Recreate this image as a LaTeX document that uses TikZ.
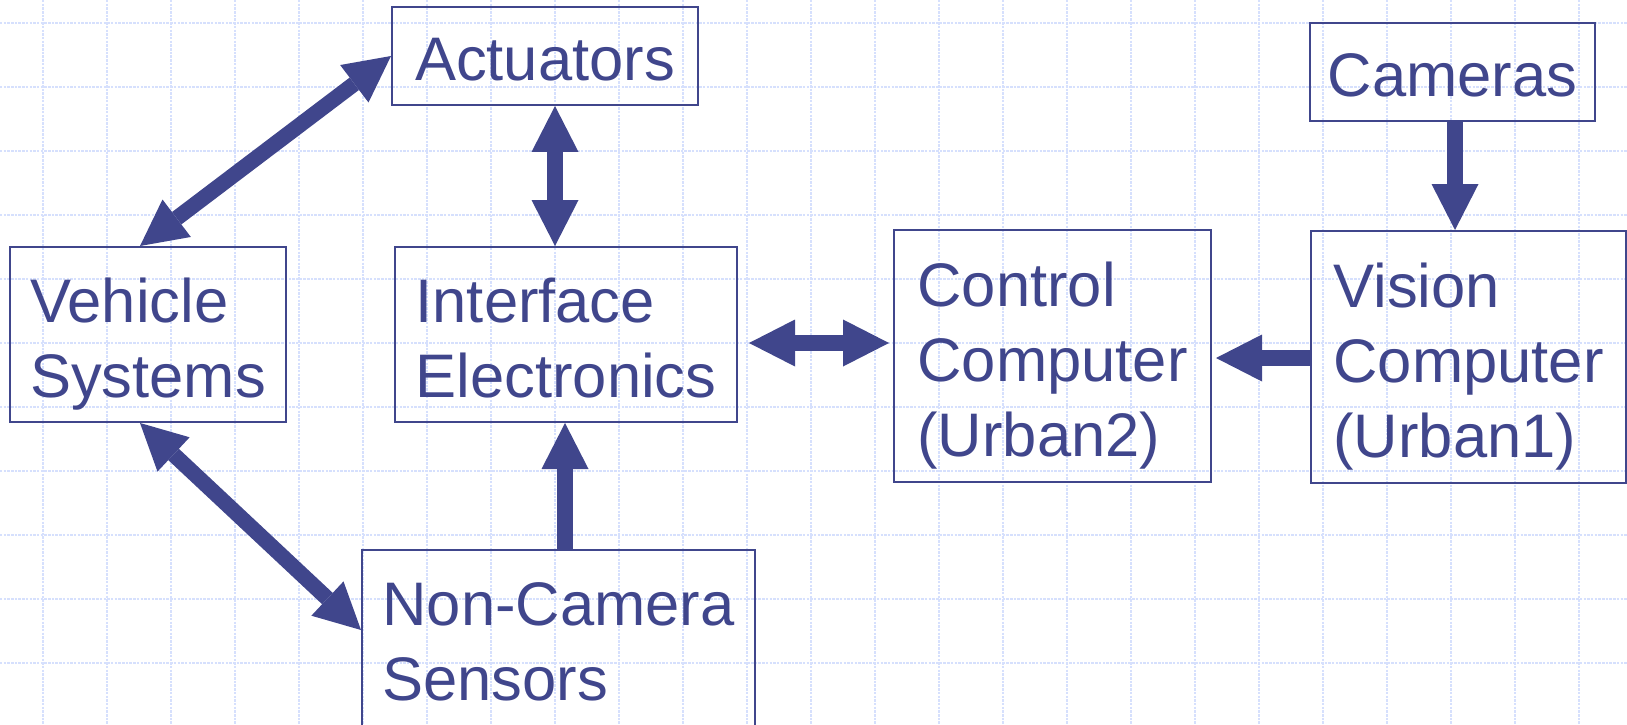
\documentclass[tikz,border=0pt]{standalone}
\usepackage{fontspec}
\setmainfont{Liberation Sans}
\usepackage{tikz}
\usetikzlibrary{arrows.meta}
\definecolor{boxblue}{RGB}{64,70,140}
\definecolor{gridblue}{RGB}{214,224,253}

\begin{document}
\begin{tikzpicture}[x=0.1mm,y=-0.1mm,
    box/.style={draw=boxblue, line width=0.2mm, text=boxblue, align=left, inner sep=0pt,
        font=\fontsize{17.5}{21.3}\selectfont, text height=5mm, text depth=0mm},
    twoline/.style={text height=12.5mm},
    threeline/.style={text height=20mm},
    flow/.style={draw=boxblue, line width=1.55mm, -{Triangle[width=4.7mm,length=4.6mm,line width=0pt]}},
    link/.style={draw=boxblue, line width=1.55mm, {Triangle[width=4.7mm,length=4.6mm,line width=0pt]}-{Triangle[width=4.7mm,length=4.6mm,line width=0pt]}}]
    \useasboundingbox (0,0) rectangle (1627,724);
    % grid
    \foreach \gx in {0,...,24}
        \draw[gridblue, line width=0.11mm, dash pattern=on 0.25mm off 0.12mm] (43+64*\gx,0) -- (43+64*\gx,724);
    \foreach \gy in {0,...,11}
        \draw[gridblue, line width=0.11mm, dash pattern=on 0.25mm off 0.12mm] (0,23+64*\gy) -- (1627,23+64*\gy);
    % boxes
    \node[box, minimum width=30.6mm, minimum height=9.8mm] (act) at (545,56) {Actuators};
    \node[box, minimum width=28.5mm, minimum height=9.8mm] (cam) at (1452.5,72) {Cameras};
    \node[box, twoline, minimum width=27.6mm, minimum height=17.5mm] (veh) at (148,334.5) {Vehicle\\Systems};
    \node[box, twoline, minimum width=34.2mm, minimum height=17.5mm] (ifc) at (566,334.5) {Interface\\Electronics};
    \node[box, threeline, minimum width=31.7mm, minimum height=25.2mm] (ctrl) at (1052.5,356) {Control\\Computer\\(Urban2)};
    \node[box, threeline, minimum width=31.5mm, minimum height=25.2mm] (vis) at (1468.5,357) {Vision\\Computer\\(Urban1)};
    \node[box, twoline, minimum width=39.3mm, minimum height=17.6mm] (ncs) at (558.5,638) {Non-Camera\\Sensors};
    % arrows
    \draw[link] (act.west) -- (veh.north -| 140,0);
    \draw[link] (act.south -| 555,0) -- (ifc.north -| 555,0);
    \draw[link] (veh.south -| 140,0) -- (ncs.west |- 0,630);
    \draw[flow] (ncs.north -| 565,0) -- (ifc.south -| 565,0);
    \draw[link, shorten <=1.1mm, shorten >=0.4mm] (ifc.east |- 0,343) -- (ctrl.west |- 0,343);
    \draw[flow] (cam.south -| 1455,0) -- (vis.north -| 1455,0);
    \draw[flow, shorten >=0.4mm] (vis.west |- 0,358) -- (ctrl.east |- 0,358);
\end{tikzpicture}
\end{document}
